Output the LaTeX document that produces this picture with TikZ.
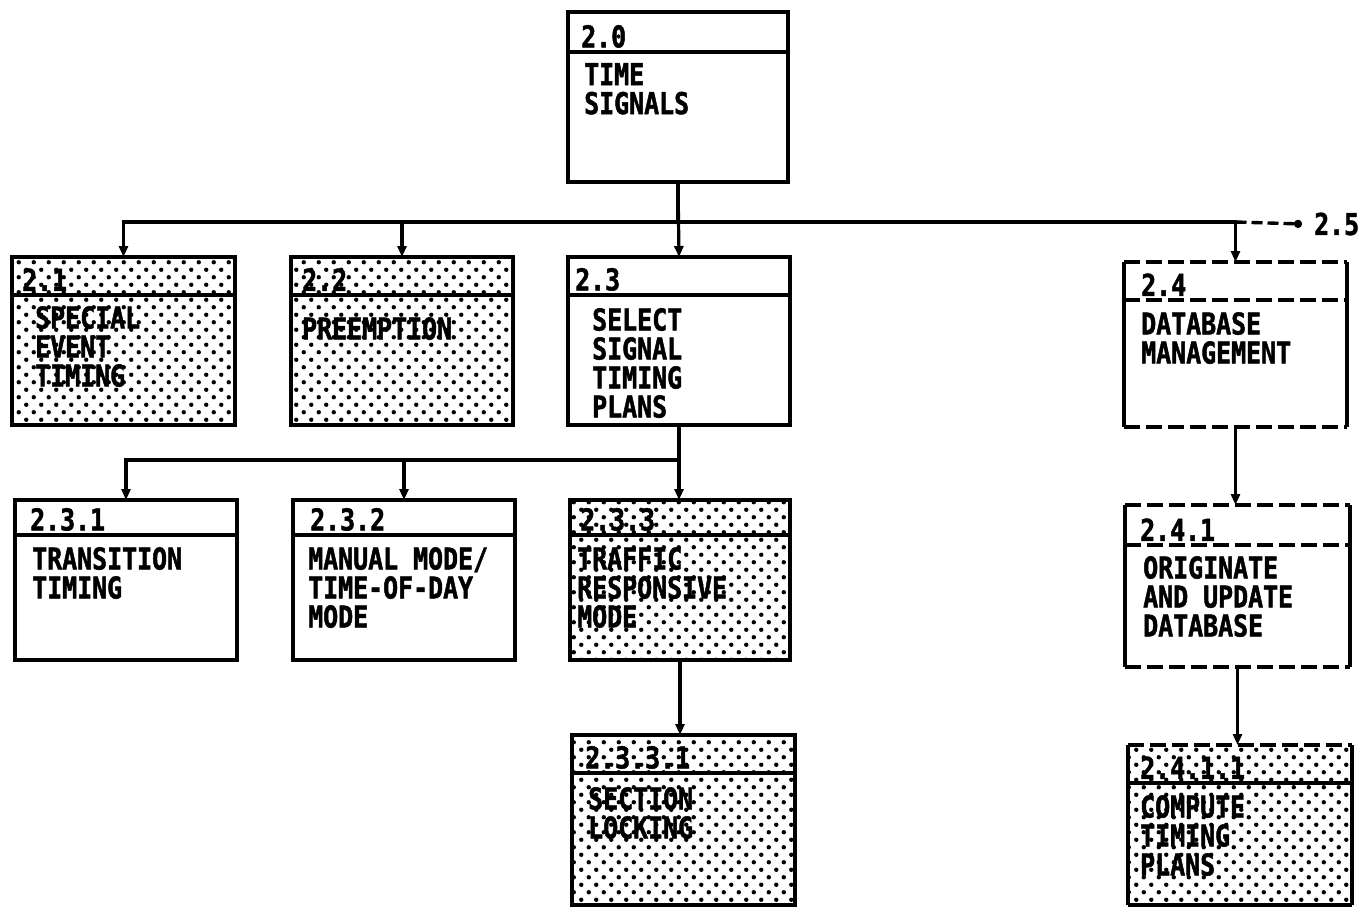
\documentclass[tikz,border=0pt]{standalone}
\usepackage{fontspec}
\newfontfamily\plotfont{DejaVu Sans Mono}[FakeStretch=0.83,FakeBold=1.6]
\usetikzlibrary{arrows.meta,calc,patterns}
\pgfdeclarepatternformonly{pdots}{\pgfqpoint{-1pt}{-1pt}}{\pgfqpoint{16pt}{16pt}}{\pgfqpoint{15pt}{15pt}}{%
  \pgfpathcircle{\pgfqpoint{3.75pt}{3.75pt}}{2.2pt}%
  \pgfpathcircle{\pgfqpoint{11.25pt}{11.25pt}}{2.2pt}%
  \pgfusepath{fill}}
\tikzset{
  edge/.style={line width=3.4pt},
  dashes/.style={dash pattern=on 16pt off 6pt},
  box/.style={draw, line width=3.4pt, inner sep=0pt, outer sep=0pt, anchor=north west},
  openbox/.style={draw=none, inner sep=0pt, outer sep=0pt, anchor=north west},
  shaded/.style={pattern=pdots, pattern color=black},
  lbl/.style={font=\plotfont\bfseries\fontsize{30}{29}\selectfont, inner sep=0pt, anchor=south west},
  txt/.style={font=\plotfont\bfseries\fontsize{30}{29}\selectfont, inner sep=0pt, anchor=north west, align=left},
  arr/.style={line width=3.2pt, -{Triangle[length=11pt,width=9pt]}},
}
\begin{document}
\begin{tikzpicture}[x=1pt,y=-1pt]
\useasboundingbox (0,0) rectangle (1370,911);

% 2.0
\node[box, minimum width=220pt, minimum height=170pt] (b20) at (568,12) {};
\draw[edge] ([yshift=-40pt]b20.north west) -- ([yshift=-40pt]b20.north east);
\node[lbl] (l20) at ([xshift=13pt,yshift=-36pt]b20.north west) {2.0};
\node[txt] (t20) at ([xshift=16pt,yshift=-51pt]b20.north west) {TIME\\SIGNALS};

% 2.1
\node[box, shaded, minimum width=223pt, minimum height=168pt] (b21) at (12,257) {};
\draw[edge] ([yshift=-38pt]b21.north west) -- ([yshift=-38pt]b21.north east);
\node[lbl] (l21) at ([xshift=10pt,yshift=-34pt]b21.north west) {2.1};
\node[txt] (t21) at ([xshift=23pt,yshift=-49pt]b21.north west) {SPECIAL\\EVENT\\TIMING};

% 2.2
\node[box, shaded, minimum width=222pt, minimum height=168pt] (b22) at (291,257) {};
\draw[edge] ([yshift=-38pt]b22.north west) -- ([yshift=-38pt]b22.north east);
\node[lbl] (l22) at ([xshift=11pt,yshift=-34pt]b22.north west) {2.2};
\node[txt] (t22) at ([xshift=11pt,yshift=-60pt]b22.north west) {PREEMPTION};

% 2.3
\node[box, minimum width=222pt, minimum height=168pt] (b23) at (568,257) {};
\draw[edge] ([yshift=-38pt]b23.north west) -- ([yshift=-38pt]b23.north east);
\node[lbl] (l23) at ([xshift=7pt,yshift=-34pt]b23.north west) {2.3};
\node[txt] (t23) at ([xshift=24pt,yshift=-51pt]b23.north west) {SELECT\\SIGNAL\\TIMING\\PLANS};

% 2.4 (dashed top / header / bottom)
\node[openbox, minimum width=223pt, minimum height=165pt] (b24) at (1124,262) {};
\draw[edge] (b24.north west) -- (b24.south west);
\draw[edge] (b24.north east) -- (b24.south east);
\draw[edge, dashes] (b24.north west) -- (b24.north east);
\draw[edge, dashes] (b24.south west) -- (b24.south east);
\draw[edge, dashes] ([yshift=-38pt]b24.north west) -- ([yshift=-38pt]b24.north east);
\node[lbl] (l24) at ([xshift=17pt,yshift=-34pt]b24.north west) {2.4};
\node[txt] (t24) at ([xshift=17pt,yshift=-50pt]b24.north west) {DATABASE\\MANAGEMENT};

% 2.3.1
\node[box, minimum width=222pt, minimum height=160pt] (b231) at (15,500) {};
\draw[edge] ([yshift=-35pt]b231.north west) -- ([yshift=-35pt]b231.north east);
\node[lbl] (l231) at ([xshift=15pt,yshift=-31pt]b231.north west) {2.3.1};
\node[txt] (t231) at ([xshift=17pt,yshift=-47pt]b231.north west) {TRANSITION\\TIMING};

% 2.3.2
\node[box, minimum width=222pt, minimum height=160pt] (b232) at (293,500) {};
\draw[edge] ([yshift=-35pt]b232.north west) -- ([yshift=-35pt]b232.north east);
\node[lbl] (l232) at ([xshift=17pt,yshift=-31pt]b232.north west) {2.3.2};
\node[txt] (t232) at ([xshift=15pt,yshift=-47pt]b232.north west) {MANUAL MODE/\\TIME-OF-DAY\\MODE};

% 2.3.3
\node[box, shaded, minimum width=220pt, minimum height=160pt] (b233) at (570,500) {};
\draw[edge] ([yshift=-35pt]b233.north west) -- ([yshift=-35pt]b233.north east);
\node[lbl] (l233) at ([xshift=10pt,yshift=-31pt]b233.north west) {2.3.3};
\node[txt] (t233) at ([xshift=7pt,yshift=-47pt]b233.north west) {TRAFFIC\\RESPONSIVE\\MODE};

% 2.3.3.1
\node[box, shaded, minimum width=223pt, minimum height=170pt] (b2331) at (572,735) {};
\draw[edge] ([yshift=-38pt]b2331.north west) -- ([yshift=-38pt]b2331.north east);
\node[lbl] (l2331) at ([xshift=13pt,yshift=-34pt]b2331.north west) {2.3.3.1};
\node[txt] (t2331) at ([xshift=16pt,yshift=-52pt]b2331.north west) {SECTION\\LOCKING};

% 2.4.1 (dashed top / header / bottom)
\node[openbox, minimum width=225pt, minimum height=162pt] (b241) at (1125,505) {};
\draw[edge] (b241.north west) -- (b241.south west);
\draw[edge] (b241.north east) -- (b241.south east);
\draw[edge, dashes] (b241.north west) -- (b241.north east);
\draw[edge, dashes] (b241.south west) -- (b241.south east);
\draw[edge, dashes] ([yshift=-40pt]b241.north west) -- ([yshift=-40pt]b241.north east);
\node[lbl] (l241) at ([xshift=15pt,yshift=-36pt]b241.north west) {2.4.1};
\node[txt] (t241) at ([xshift=18pt,yshift=-51pt]b241.north west) {ORIGINATE\\AND UPDATE\\DATABASE};

% 2.4.1.1 (dashed top)
\node[openbox, shaded, minimum width=224pt, minimum height=160pt] (b2411) at (1128,745) {};
\draw[edge] (b2411.north west) -- (b2411.south west);
\draw[edge] (b2411.north east) -- (b2411.south east);
\draw[edge] (b2411.south west) -- (b2411.south east);
\draw[edge, dashes] (b2411.north west) -- (b2411.north east);
\draw[edge] ([yshift=-38pt]b2411.north west) -- ([yshift=-38pt]b2411.north east);
\node[lbl] (l2411) at ([xshift=12pt,yshift=-34pt]b2411.north west) {2.4.1.1};
\node[txt] (t2411) at ([xshift=12pt,yshift=-50pt]b2411.north west) {COMPUTE\\TIMING\\PLANS};

% 2.5 label
\node[font=\plotfont\bfseries\fontsize{30}{29}\selectfont, inner sep=0pt, anchor=west] (t25) at (1314,224) {2.5};

% connectors level 1
\coordinate (bus) at (678,222);
\coordinate (bus2) at (678,460);
\draw[arr] (b20.south) -- (b20.south |- bus) -| (b21.north);
\draw[arr] (b20.south) -- (b20.south |- bus) -| (b22.north);
\draw[arr] (b20.south) -- (b23.north);
\draw[arr] (b20.south) -- (b20.south |- bus) -| (b24.north);
\coordinate (j25) at (b24.north |- bus);
\draw[edge, dash pattern=on 11pt off 5pt, -{Circle[length=8pt]}] (j25) -- ([xshift=-12pt]t25.west);

% connectors level 2
\draw[arr] (b23.south) -- (b23.south |- bus2) -| (b231.north);
\draw[arr] (b23.south) -- (b23.south |- bus2) -| (b232.north);
\draw[arr] (b23.south) -- (b23.south |- b233.north);
\draw[arr] (b233.south) -- (b233.south |- b2331.north);
\draw[arr] (b24.south) -- (b24.south |- b241.north);
\draw[arr] (b241.south) -- (b241.south |- b2411.north);
\end{tikzpicture}
\end{document}
